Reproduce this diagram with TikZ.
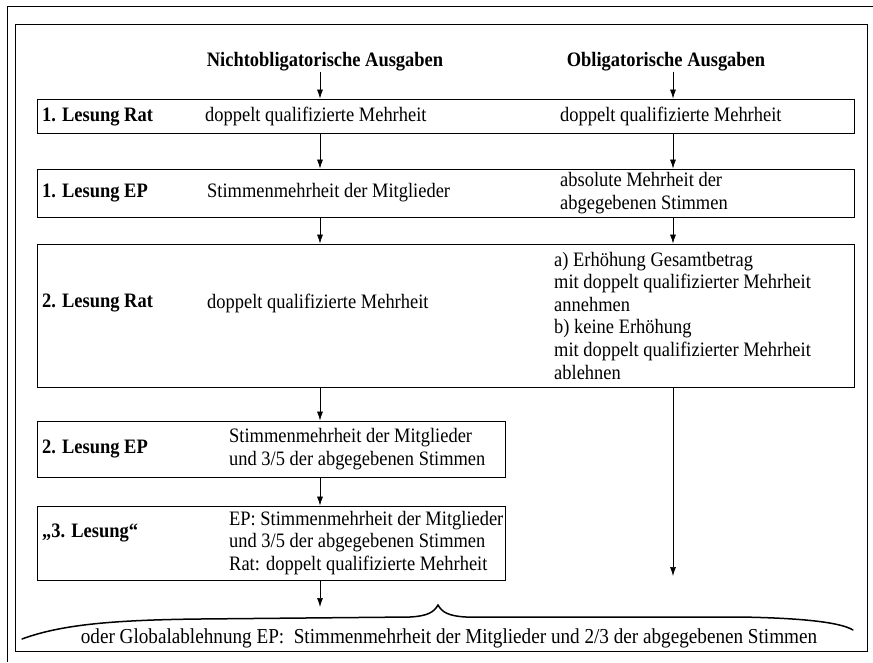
\documentclass[tikz,border=0pt]{standalone}
\usepackage{fontspec}
\setmainfont{Liberation Serif}[FakeStretch=0.9]
\usepackage{tikz}
\usetikzlibrary{arrows.meta,calc}
\newcommand{\schrift}{\fontsize{20.5}{22.6}\selectfont}
\tikzset{
  kasten/.style={draw, line width=0.9pt, inner sep=0pt},
  pfeil/.style={-{Latex[length=9pt,width=6pt]}, line width=0.7pt},
  txt/.style={anchor=west, inner sep=0pt, align=left, font=\schrift},
  lbl/.style={txt, font=\schrift\bfseries},
  kopf/.style={inner sep=0pt, font=\schrift\bfseries},
  klammer/.style={line width=1.5pt, line cap=round},
}

\begin{document}
\begin{tikzpicture}[x=1pt,y=-1pt]
\useasboundingbox (0,0) rectangle (873,662);
% Rahmen
\draw[line width=0.8pt] (873,6) -- (7,6) -- (7,662);
\draw[line width=0.8pt] (15,24) rectangle (867,651);
\coordinate (colN) at (320,0);
\coordinate (colO) at (673,0);
% Spaltenkoepfe
\node[kopf] (kopfN) at (325,62) {Nichtobligatorische Ausgaben};
\node[kopf] (kopfO) at (666,62) {Obligatorische Ausgaben};
% Kaesten
\node[kasten, minimum width=817pt, minimum height=34pt] (rat1) at (445.5,116) {};
\node[kasten, minimum width=817pt, minimum height=48pt] (ep1) at (445.5,193) {};
\node[kasten, minimum width=817pt, minimum height=143pt] (rat2) at (445.5,315.5) {};
\node[kasten, minimum width=468pt, minimum height=56pt] (ep2) at (271,449) {};
\node[kasten, minimum width=468pt, minimum height=74pt] (les3) at (271,543) {};
% Texte
\node[lbl] (rat1a) at (42,117) {1. Lesung Rat};
\node[txt] (rat1b) at (205,116) {doppelt qualifizierte Mehrheit};
\node[txt] (rat1c) at (560,116) {doppelt qualifizierte Mehrheit};
\node[lbl] (ep1a) at (42,193) {1. Lesung EP};
\node[txt] (ep1b) at (207,193) {Stimmenmehrheit der Mitglieder};
\node[txt] (ep1c) at (560,193) {absolute Mehrheit der\\abgegebenen Stimmen};
\node[lbl] (rat2a) at (42,303) {2. Lesung Rat};
\node[txt] (rat2b) at (207,303) {doppelt qualifizierte Mehrheit};
\node[txt] (rat2c) at (554,315.5) {a) Erhöhung Gesamtbetrag\\mit doppelt qualifizierter Mehrheit\\annehmen\\b) keine Erhöhung\\mit doppelt qualifizierter Mehrheit\\ablehnen};
\node[lbl] (ep2a) at (42,449) {2. Lesung EP};
\node[txt] (ep2b) at (229,449) {Stimmenmehrheit der Mitglieder\\und 3/5 der abgegebenen Stimmen};
\node[lbl] (les3a) at (42,533) {„3. Lesung“};
\node[txt] (les3b) at (229,543) {EP: Stimmenmehrheit der Mitglieder\\und 3/5 der abgegebenen Stimmen\\Rat: doppelt qualifizierte Mehrheit};
\node[txt, anchor=center, font=\fontsize{21.3}{23}\selectfont] (global) at (449,638) {oder Globalablehnung EP:\ \ Stimmenmehrheit der Mitglieder und 2/3 der abgegebenen Stimmen};
% Pfeile
\coordinate (endeN) at (320,607);
\coordinate (endeO) at (673,576);
\draw[pfeil] (kopfN.south -| colN) -- (rat1.north -| colN);
\draw[pfeil] (kopfO.south -| colO) -- (rat1.north -| colO);
\draw[pfeil] (rat1.south -| colN) -- (ep1.north -| colN);
\draw[pfeil] (rat1.south -| colO) -- (ep1.north -| colO);
\draw[pfeil] (ep1.south -| colN) -- (rat2.north -| colN);
\draw[pfeil] (ep1.south -| colO) -- (rat2.north -| colO);
\draw[pfeil] (rat2.south -| colN) -- (ep2.north -| colN);
\draw[pfeil] (ep2.south -| colN) -- (les3.north -| colN);
\draw[pfeil] (les3.south -| colN) -- (endeN);
\draw[pfeil] (rat2.south -| colO) -- (endeO);
% Klammer
\draw[klammer] (22,639) .. controls (60,625) and (110,620) .. (200,619) -- (410,617)
  .. controls (428,616) and (434,612) .. (438,605)
  .. controls (442,612) and (448,616) .. (466,617) -- (740,617)
  .. controls (800,618) and (840,622) .. (853,630);
\end{tikzpicture}
\end{document}
